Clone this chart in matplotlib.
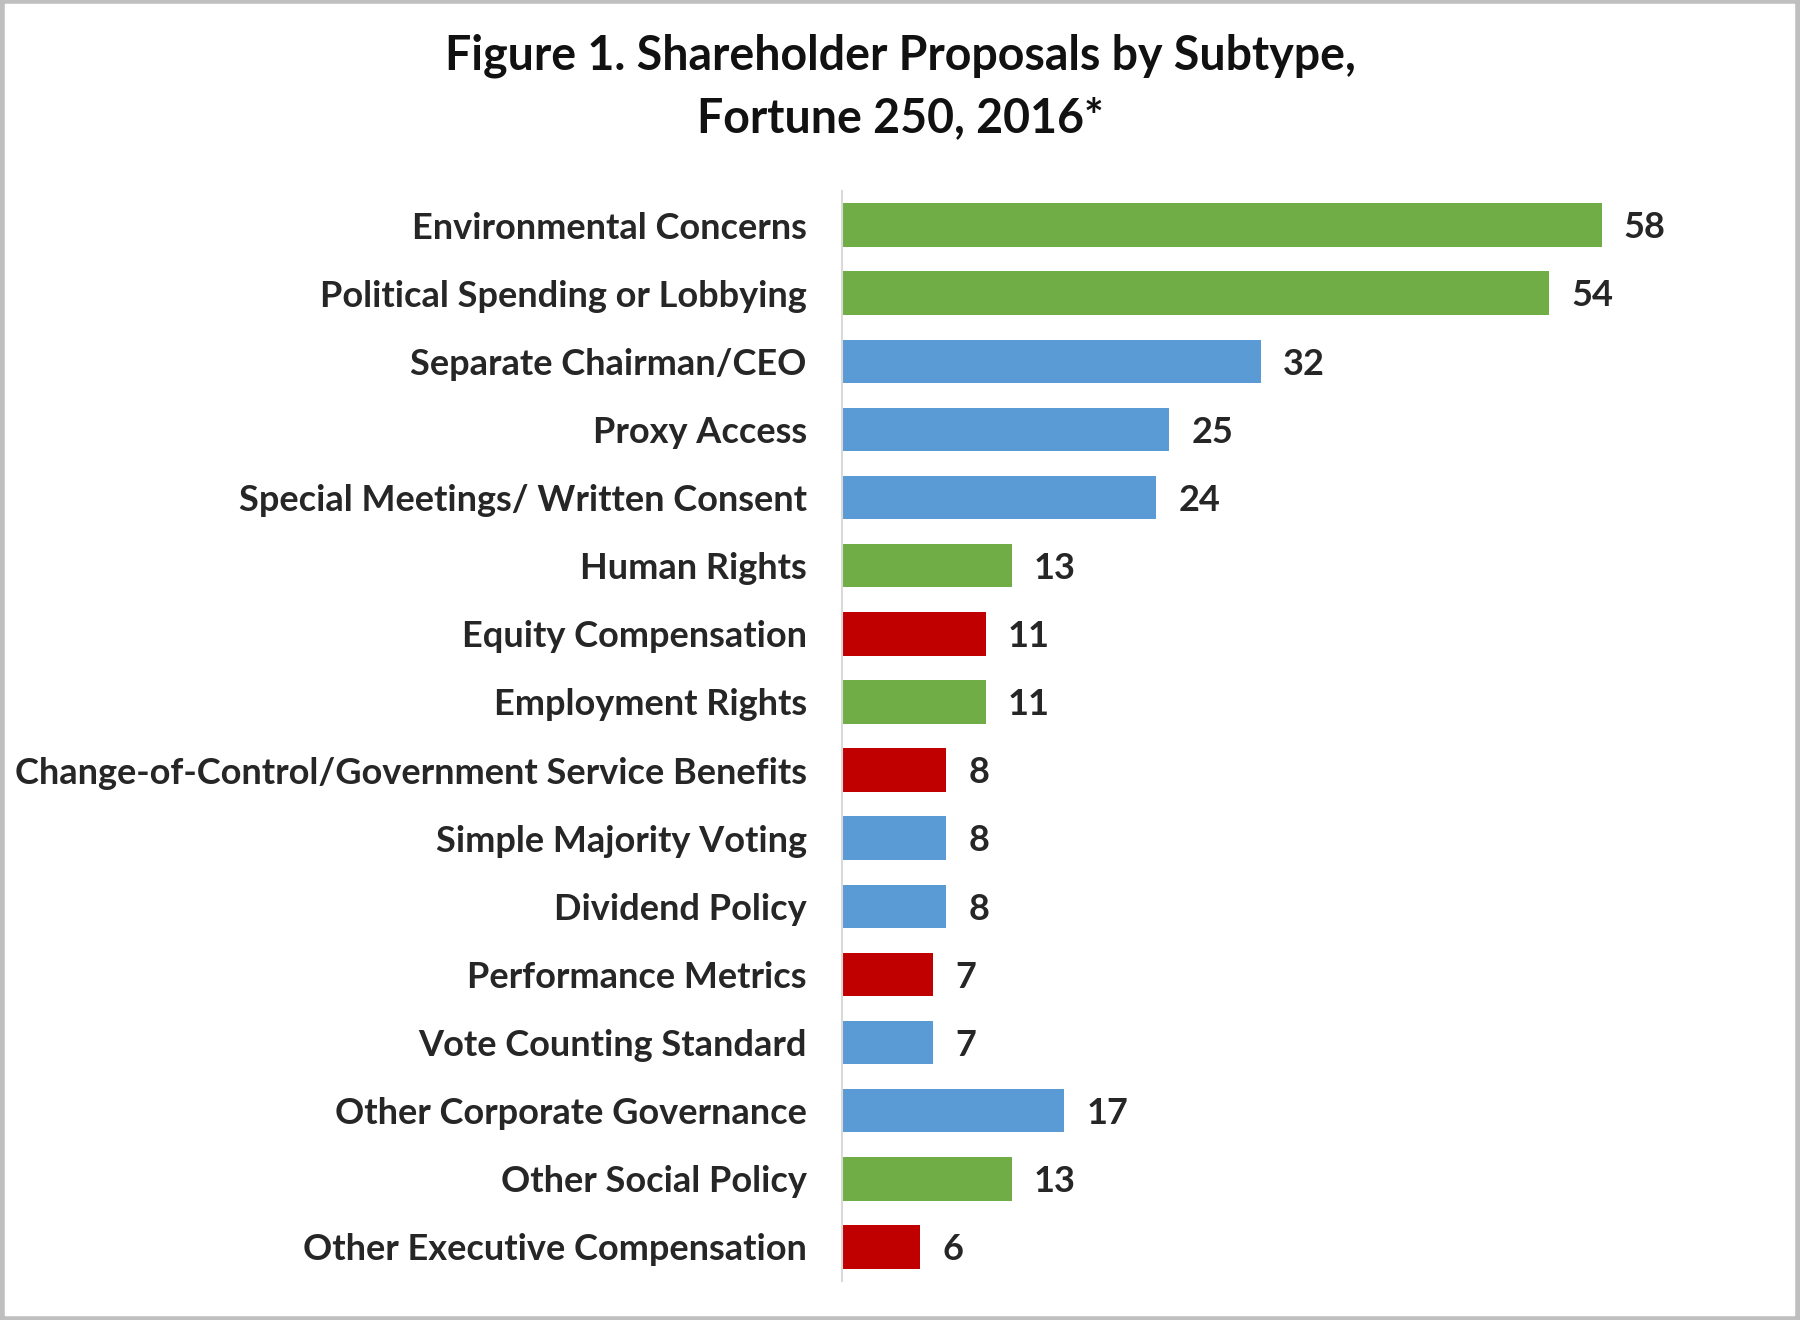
import matplotlib
matplotlib.use("Agg")
import matplotlib.pyplot as plt
from matplotlib.patches import Rectangle

categories = [
    "Environmental Concerns",
    "Political Spending or Lobbying",
    "Separate Chairman/CEO",
    "Proxy Access",
    "Special Meetings/ Written Consent",
    "Human Rights",
    "Equity Compensation",
    "Employment Rights",
    "Change-of-Control/Government Service Benefits",
    "Simple Majority Voting",
    "Dividend Policy",
    "Performance Metrics",
    "Vote Counting Standard",
    "Other Corporate Governance",
    "Other Social Policy",
    "Other Executive Compensation",
]
values = [58, 54, 32, 25, 24, 13, 11, 11, 8, 8, 8, 7, 7, 17, 13, 6]
groups = ["social", "social", "gov", "gov", "gov", "social", "comp", "social",
          "comp", "gov", "gov", "comp", "gov", "gov", "social", "comp"]
group_colors = {"social": "#70AD47", "gov": "#5B9BD5", "comp": "#C00000"}
title = "Figure 1. Shareholder Proposals by Subtype,\nFortune 250, 2016*"

plt.rcParams['font.family'] = ['Lato', 'DejaVu Sans']

W, H = 1800, 1320
fig = plt.figure(figsize=(W / 100, H / 100), dpi=100)
fig.patch.set_facecolor("white")

ax_left, ax_right = 841.5, 1760
ax_top, ax_bot = 191, 1281
ax = fig.add_axes([ax_left / W, 1 - ax_bot / H, (ax_right - ax_left) / W, (ax_bot - ax_top) / H])
scale = (1601.5 - 841.5) / 58.0
ax.set_xlim(0, (ax_right - ax_left) / scale)

n = len(categories)
ypos = list(range(n))
colors = [group_colors[g] for g in groups]
ax.barh(ypos, values, height=0.64, color=colors, edgecolor="none")
ax.set_ylim(n - 0.5, -0.5)

ax.set_yticks(ypos)
ax.set_yticklabels(categories, fontsize=26, fontweight="bold", color="#262626")
ax.tick_params(axis="y", length=0, pad=25)
ax.set_xticks([])
for s in ["top", "right", "bottom"]:
    ax.spines[s].set_visible(False)
ax.spines["left"].set_color("#D9D9D9")
ax.spines["left"].set_linewidth(1.5)

for y, v in zip(ypos, values):
    ax.annotate(str(v), xy=(v, y), xytext=(16, -2), textcoords="offset points",
                va="center", ha="left", fontsize=26, fontweight="bold", color="#262626")

fig.text(0.5, 1 - 87 / H, title, ha="center", va="center", fontsize=33.5,
         fontweight="bold", color="#111111", linespacing=1.5)

fig.patches.append(Rectangle((0.001, 0.001), 0.998, 0.998, transform=fig.transFigure,
                             fill=False, edgecolor="#BFBFBF", linewidth=4))

fig.savefig("out.png", dpi=100, facecolor="white")
